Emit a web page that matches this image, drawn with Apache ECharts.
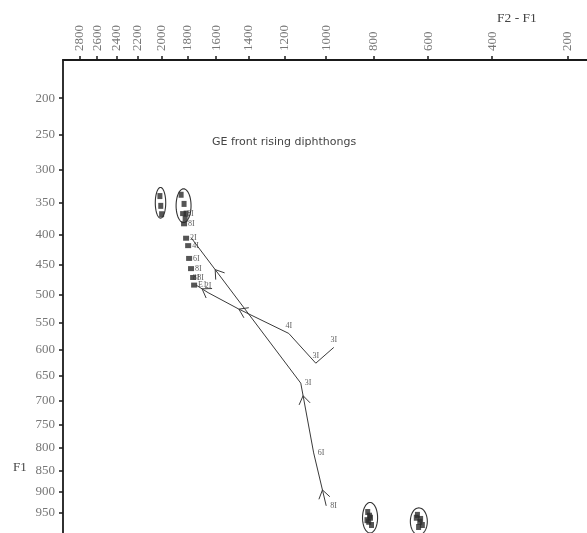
<!DOCTYPE html>
<html><head><meta charset="utf-8">
<script src="https://cdn.jsdelivr.net/npm/echarts@6/dist/echarts.min.js"></script>
<style>html,body{margin:0;padding:0;background:#fff}#c{width:587px;height:533px}</style>
</head><body><div id="c"></div>
<script>
// ---- axis ticks (Hz) ----
const xTicks = [2800,2600,2400,2200,2000,1800,1600,1400,1200,1000,800,600,400,200];
const yTicks = [200,250,300,350,400,450,500,550,600,650,700,750,800,850,900,950];
const xRange = [155,3000];
const yRange = [150,1000];

// ---- trajectory A (F2-F1, F1 in Hz) ----
const trajA_x = [1000,1058,1120,1773];
const trajA_y = [933,811,665,405];
const trajA_lab = ['8I','6I','3I',''];
const trajA_arrows = [[0,0.3],[1,0.82],[2,0.78]];

// ---- trajectory B ----
const trajB_x = [966,1048,1180,1457,1654,1737];
const trajB_y = [596,626,570,526,497,484];
const trajB_lab = ['3I','3I','4I','','2I','8I'];
const trajB_arrows = [[2,1.0],[4,0.5]];

// ---- cluster of nucleus tokens ----
const cluster_x = [1831,1824,1809,1794,1787,1773,1758,1751];
const cluster_y = [367,383,406,418,439,456,471,484];
const cluster_lab = ['8I','8I','2I','4I','6I','8I','8I','E1'];

// ---- ellipses (ranges in Hz) ----
const ell_x1 = [1965,1773,784,603];
const ell_x2 = [2050,1884,844,662];
const ell_y1 = [327,329,925,938];
const ell_y2 = [374,381,1000,1005];

// ---- tokens inside ellipses ----
const tok_x = [2012,2005,1998, 1846,1824,1809,1816, 823,812,819,808,816,826, 637,626,620,633,629,641];
const tok_y = [340,355,368, 338,352,367,375, 948,962,972,980,957,968, 955,965,980,985,972,962];

const bark = f => 26.81*f/(1960+f) - 0.53;
const invBark = z => 1960*(z+0.53)/(26.28 - z);

function trajData(xs, ys){ return xs.map((x,i)=>[bark(x), bark(ys[i])]); }
function labData(xs, ys, labs){ return xs.map((x,i)=>[bark(x), bark(ys[i]), labs[i]]); }
function arrowData(xs, ys, arrows){
  return arrows.map(([i,t])=>[bark(xs[i]),bark(ys[i]),bark(xs[i+1]),bark(ys[i+1]),t]);
}

const serif = 'Liberation Serif';
const lineCol = '#3a3a3a';

function arrowRender(params, api){
  const p1 = api.coord([api.value(0), api.value(1)]);
  const p2 = api.coord([api.value(2), api.value(3)]);
  const t = api.value(4);
  const P = [p1[0]+t*(p2[0]-p1[0]), p1[1]+t*(p2[1]-p1[1])];
  let dx = p2[0]-p1[0], dy = p2[1]-p1[1];
  const n = Math.hypot(dx,dy); dx/=n; dy/=n;
  const L = 10, a = 34*Math.PI/180;
  const rot = (x,y,ang)=>[x*Math.cos(ang)-y*Math.sin(ang), x*Math.sin(ang)+y*Math.cos(ang)];
  const r1 = rot(dx,dy,a), r2 = rot(dx,dy,-a);
  return {type:'polyline', shape:{points:[[P[0]-L*r1[0],P[1]-L*r1[1]],P,[P[0]-L*r2[0],P[1]-L*r2[1]]]},
    style:{fill:null, stroke:lineCol, lineWidth:1}};
}
function ellipseRender(params, api){
  const c1 = api.coord([api.value(0), api.value(2)]);
  const c2 = api.coord([api.value(1), api.value(3)]);
  const cx=(c1[0]+c2[0])/2, cy=(c1[1]+c2[1])/2;
  const rx=Math.abs(c2[0]-c1[0])/2, ry=Math.abs(c2[1]-c1[1])/2;
  const pts=[];
  for(let k=0;k<=60;k++){const th=k/60*2*Math.PI; pts.push([cx+rx*Math.cos(th), cy+ry*Math.sin(th)]);}
  return {type:'polygon', shape:{points:pts}, style:{fill:null, stroke:'#333', lineWidth:1.1}};
}

const labelStyle = {show:true, fontFamily:serif, fontSize:8, color:'#333', formatter:p=>p.data[2]};

const chart = echarts.init(document.getElementById('c'));
chart.setOption({
  animation:false,
  backgroundColor:'#fff',
  title:[
    {text:'GE front rising diphthongs', left:212, top:137, padding:0,
     textStyle:{fontFamily:'DejaVu Sans', fontSize:11, fontWeight:'normal', color:'#444'}},
    {text:'F2 - F1', left:497, top:11, padding:0,
     textStyle:{fontFamily:serif, fontSize:13.5, fontWeight:'normal', color:'#444'}},
    {text:'F1', left:13, top:461, padding:0,
     textStyle:{fontFamily:serif, fontSize:13, fontWeight:'normal', color:'#444'}}
  ],
  grid:{left:63, top:60, right:0, bottom:0, containLabel:false},
  xAxis:{type:'value', position:'top', inverse:true, min:bark(xRange[0]), max:bark(xRange[1]),
    axisLine:{show:true, onZero:false, lineStyle:{color:'#1a1a1a', width:1.8}},
    axisTick:{show:true, length:4, customValues:xTicks.map(bark), lineStyle:{color:'#1a1a1a', width:1.5}},
    axisLabel:{show:true, rotate:-90, margin:9, customValues:xTicks.map(bark),
      formatter:v=>String(Math.round(invBark(v)/10)*10), fontFamily:serif, fontSize:13, color:'#777'},
    splitLine:{show:false}},
  yAxis:{type:'value', inverse:true, min:bark(yRange[0]), max:bark(yRange[1]),
    axisLine:{show:true, onZero:false, lineStyle:{color:'#1a1a1a', width:1.8}},
    axisTick:{show:true, length:4, customValues:yTicks.map(bark), lineStyle:{color:'#1a1a1a', width:1.5}},
    axisLabel:{show:true, margin:8, customValues:yTicks.map(bark),
      formatter:v=>String(Math.round(invBark(v)/10)*10), fontFamily:serif, fontSize:13, color:'#777'},
    splitLine:{show:false}},
  series:[
    {type:'line', data:trajData(trajA_x,trajA_y), symbol:'none', lineStyle:{color:lineCol, width:1}},
    {type:'line', data:trajData(trajB_x,trajB_y), symbol:'none', lineStyle:{color:lineCol, width:1}},
    {type:'custom', renderItem:arrowRender, data:arrowData(trajA_x,trajA_y,trajA_arrows).concat(arrowData(trajB_x,trajB_y,trajB_arrows))},
    {type:'custom', renderItem:ellipseRender, encode:{x:[0,1], y:[2,3]},
      data:ell_x1.map((x,i)=>[bark(x),bark(ell_x2[i]),bark(ell_y1[i]),bark(ell_y2[i])])},
    {type:'scatter', data:trajData(tok_x,tok_y), symbol:'rect', symbolSize:[5,6], itemStyle:{color:'#2a2a2a'}},
    {type:'scatter', data:labData(cluster_x,cluster_y,cluster_lab), symbol:'rect', symbolSize:[6,5],
      itemStyle:{color:'#2a2a2a'}, label:Object.assign({position:'right', distance:1}, labelStyle)},
    {type:'scatter', data:labData(trajA_x,trajA_y,trajA_lab), symbolSize:0.1,
      label:Object.assign({position:'right', distance:4}, labelStyle)},
    {type:'scatter', data:labData(trajB_x,trajB_y,trajB_lab), symbolSize:0.1,
      label:Object.assign({position:'top', distance:3}, labelStyle)}
  ]
});
</script></body></html>
